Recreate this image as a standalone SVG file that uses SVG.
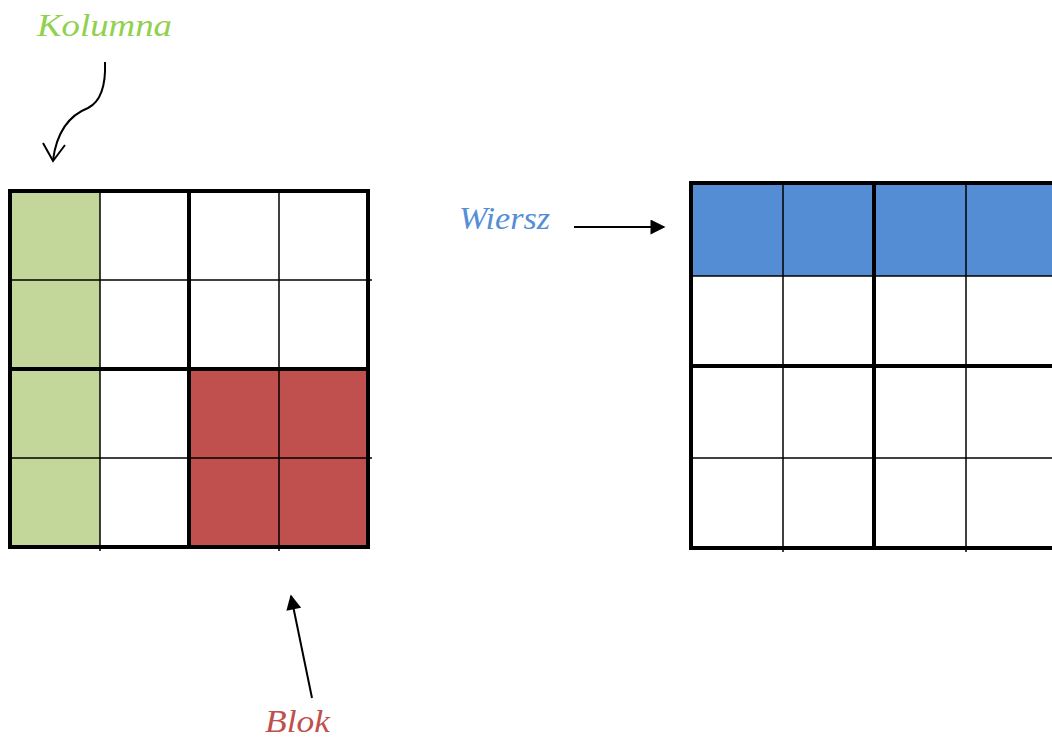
<svg xmlns="http://www.w3.org/2000/svg" width="1052" height="738" viewBox="0 0 1052 738">
<style>
.thick{stroke:#000;stroke-width:4;fill:none;stroke-linecap:square}
.thin{stroke:#000;stroke-width:1.5;fill:none}
.lbl{font-family:"Liberation Serif","DejaVu Serif",serif;font-style:italic;font-size:32px}
.conn{stroke:#000;stroke-width:2;fill:none}
</style>
<defs>
<marker id="tri" viewBox="0 0 10 10" refX="9" refY="5" markerWidth="19" markerHeight="15" markerUnits="userSpaceOnUse" orient="auto">
<path d="M0,0 L10,5 L0,10 Z" fill="#000"/>
</marker>
</defs>
<rect width="1052" height="738" fill="#fff"/>
<g id="grid-left">
<rect x="10" y="191" width="90" height="356" fill="#C4D79B"/>
<rect x="189" y="369" width="179" height="178" fill="#C0504D"/>
<line class="thin" x1="100" y1="191" x2="100" y2="551"/>
<line class="thin" x1="279" y1="191" x2="279" y2="551"/>
<line class="thin" x1="10" y1="280" x2="372" y2="280"/>
<line class="thin" x1="10" y1="458" x2="372" y2="458"/>
<line class="thick" x1="189" y1="191" x2="189" y2="547"/>
<line class="thick" x1="10" y1="369" x2="368" y2="369"/>
<rect class="thick" x="10" y="191" width="358" height="356"/>
</g>
<g id="grid-right">
<rect x="691" y="183" width="367" height="93" fill="#548DD4"/>
<line class="thin" x1="783" y1="183" x2="783" y2="552"/>
<line class="thin" x1="966" y1="183" x2="966" y2="552"/>
<line class="thin" x1="691" y1="276" x2="1058" y2="276"/>
<line class="thin" x1="691" y1="458" x2="1058" y2="458"/>
<line class="thick" x1="874" y1="183" x2="874" y2="548"/>
<line class="thick" x1="691" y1="366" x2="1058" y2="366"/>
<rect class="thick" x="691" y="183" width="367" height="365"/>
</g>
<g id="label-kolumna"><text class="lbl" x="37" y="36" fill="#92D050" textLength="135" lengthAdjust="spacingAndGlyphs">Kolumna</text></g>
<g id="label-wiersz"><text class="lbl" x="459" y="229" fill="#558ED5" textLength="91" lengthAdjust="spacingAndGlyphs">Wiersz</text></g>
<g id="label-blok"><text class="lbl" x="265" y="732" fill="#C0504D" textLength="65" lengthAdjust="spacingAndGlyphs">Blok</text></g>
<g id="connectors">
<path class="conn" d="M105,62 C106,88 100,102 88,108 C70,115 57,130 53,160"/>
<path class="conn" d="M43,143 L53,161 L65,145"/>
<line class="conn" x1="574" y1="227" x2="664" y2="227" marker-end="url(#tri)" stroke-width="1.8"/>
<line class="conn" x1="312" y1="698" x2="291" y2="596" marker-end="url(#tri)" stroke-width="1.8"/>
</g>
</svg>
